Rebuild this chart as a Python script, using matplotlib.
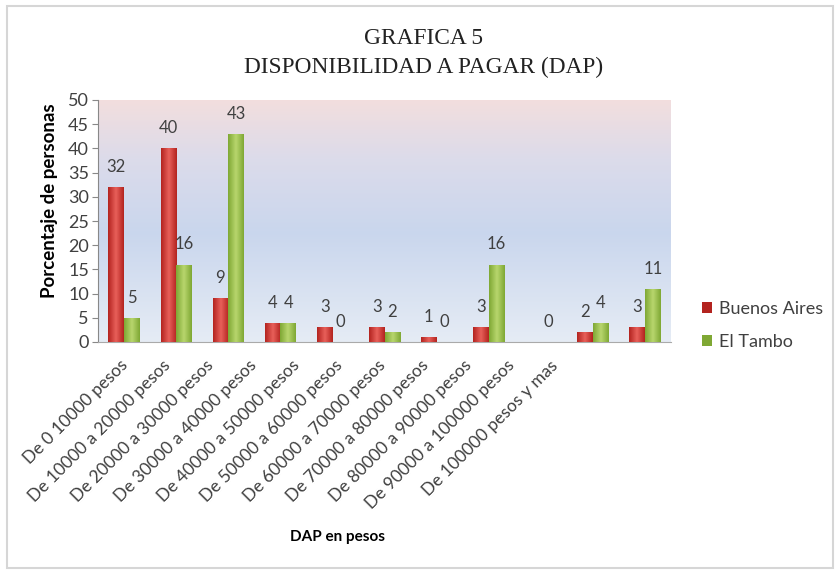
import numpy as np
import matplotlib.pyplot as plt
from matplotlib.patches import Rectangle
from matplotlib.colors import LinearSegmentedColormap

categorias = ["De 0 10000 pesos", "De 10000 a 20000 pesos", "De 20000 a 30000 pesos",
              "De 30000 a 40000 pesos", "De 40000 a 50000 pesos", "De 50000 a 60000 pesos",
              "De 60000 a 70000 pesos", "De 70000 a 80000 pesos", "De 80000 a 90000 pesos",
              "De 90000 a 100000 pesos", "De 100000 pesos y mas"]
buenos_aires = [32, 40, 9, 4, 3, 3, 1, 3, np.nan, 2, 3]
el_tambo = [5, 16, 43, 4, 0, 2, 0, 16, 0, 4, 11]

fuente = "Lato"
gris_txt = "#404040"
W, H = 835, 570

fig = plt.figure(figsize=(W / 100, H / 100), dpi=100)
fig.patch.set_facecolor("white")

# marco del grafico
fig.patches.append(Rectangle((7 / W, 2 / H), 826 / W, 562 / H, transform=fig.transFigure,
                             fill=False, edgecolor="#d6d6d6", lw=1.5))

ax = fig.add_axes([98 / W, 228 / H, 573 / W, 242 / H])
n = len(categorias)
x = np.arange(n)
ancho = 0.3
ax.set_xlim(-0.5, n - 0.5)
ax.set_ylim(0, 50)

# fondo degradado rosa -> azul
fondo = LinearSegmentedColormap.from_list("fondo", [
    (0.0, (0.90, 0.925, 0.96)),
    (0.45, (0.79, 0.84, 0.93)),
    (0.75, (0.86, 0.86, 0.92)),
    (1.0, (0.95, 0.87, 0.87)),
])
grad = np.linspace(0, 1, 256).reshape(-1, 1)
ax.imshow(grad, cmap=fondo, origin="lower", aspect="auto",
          extent=(-0.5, n - 0.5, 0, 50), zorder=0)


def barras(pos, valores, c_borde, c_centro, etiqueta):
    cmap = LinearSegmentedColormap.from_list(etiqueta, [c_borde, c_centro, c_borde])
    rects = ax.bar(pos, valores, ancho, color=c_borde, label=etiqueta, zorder=2, lw=0)
    h = np.linspace(0, 1, 64).reshape(1, -1)
    for r, v in zip(rects, valores):
        if np.isnan(v):
            continue
        x0 = r.get_x()
        if v > 0:
            im = ax.imshow(h, cmap=cmap, aspect="auto", zorder=3,
                           extent=(x0, x0 + ancho, 0, v))
            im.set_clip_path(r)
        ax.annotate(f"{v:g}", (x0 + ancho / 2, v), xytext=(0, 14.5), textcoords="offset points",
                    ha="center", va="center", fontsize=12, color=gris_txt, family=fuente)
    return rects


b1 = barras(x - ancho / 2, buenos_aires, "#b3231f", "#e8605a", "Buenos Aires")
b2 = barras(x + ancho / 2, el_tambo, "#7fa834", "#b8d66e", "El Tambo")

ax.set_yticks(range(0, 51, 5))
ax.tick_params(axis="y", direction="out", length=4.5, color="#888888", labelsize=13,
               labelcolor=gris_txt, pad=2)
for t in ax.get_yticklabels():
    t.set_family(fuente)
ax.set_xticks([])
for lado in ["top", "right"]:
    ax.spines[lado].set_visible(False)
ax.spines["left"].set_color("#888888")
ax.spines["bottom"].set_color("#aaaaaa")

# eje aparte solo para las etiquetas de categoria (mas juntas que las barras)
ax_et = fig.add_axes([103.5 / W, 228 / H, 473 / W, 0.001])
ax_et.set_xlim(-0.5, n - 0.5)
ax_et.set_xticks(x)
ax_et.set_xticklabels(categorias, rotation=45, ha="right", va="center", rotation_mode="anchor",
                      fontsize=12.5, color=gris_txt, family=fuente)
ax_et.tick_params(axis="x", length=0, pad=15)
ax_et.set_yticks([])
ax_et.patch.set_visible(False)
for s in ax_et.spines.values():
    s.set_visible(False)

fig.text(50 / W, 1 - 201 / H, "Porcentaje de personas", rotation=90, ha="center", va="center",
         fontsize=13.5, fontweight="bold", family=fuente)
fig.text(338 / W, 1 - 537 / H, "DAP en pesos", ha="center", va="center",
         fontsize=11, fontweight="bold", family=fuente)
fig.text(424 / W, 1 - 38 / H, "GRAFICA 5", ha="center", va="center",
         fontsize=16.8, family="Liberation Serif", color="#222222")
fig.text(424 / W, 1 - 67 / H, "DISPONIBILIDAD A PAGAR (DAP)", ha="center", va="center",
         fontsize=16.8, family="Liberation Serif", color="#222222")

leg = fig.legend(handles=[b1, b2], loc="center left", bbox_to_anchor=(702 / W, 1 - 325.5 / H),
                 frameon=False, prop={"family": fuente, "size": 13}, handlelength=0.55,
                 handleheight=0.55, handletextpad=0.4, labelspacing=0.95, borderpad=0,
                 borderaxespad=0)
for t in leg.get_texts():
    t.set_color(gris_txt)

fig.savefig("out.png", dpi=100)
